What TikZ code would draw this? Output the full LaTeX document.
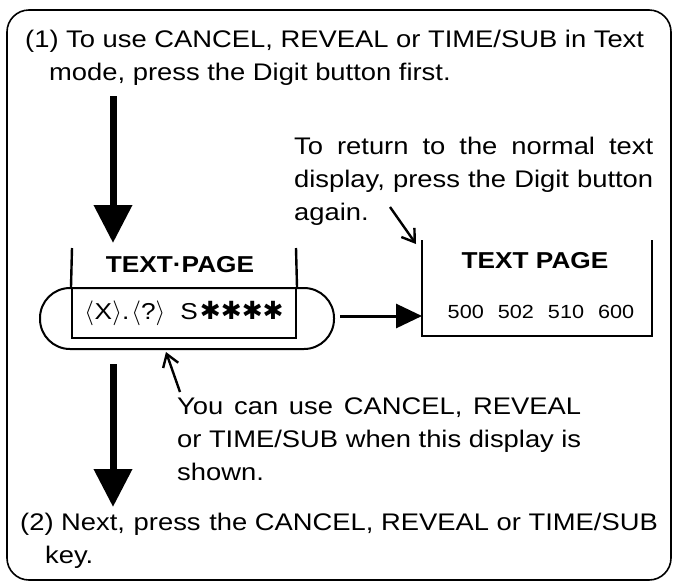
\documentclass[tikz,border=0pt]{standalone}
\usepackage{fontspec}
\setmainfont{Liberation Sans}[FakeStretch=1.14]
\newfontfamily\symfont{DejaVu Sans}
\usetikzlibrary{arrows.meta}
\begin{document}
\begin{tikzpicture}[x=1pt,y=-1pt,
  txt/.style={inner sep=0pt, font=\fontsize{24}{33}\selectfont},
  note/.style={inner sep=0pt, font=\fontsize{24}{33}\selectfont, align=justify},
  frame/.style={line width=1.6pt, rounded corners=22pt},
  bar/.style={line width=2.4pt},
  bigarrow/.style={line width=7pt, -{Triangle[length=38pt,width=37pt]}},
  midarrow/.style={line width=3pt, -{Triangle[length=26pt,width=24pt]}},
  thinarrow/.style={line width=2.4pt, -{Straight Barb[length=12pt,width=16pt]}},
  title/.style={inner sep=0pt, font=\fontsize{23}{28}\selectfont\bfseries},
]
\useasboundingbox (0,0) rectangle (676,587);
\draw[frame] (7,10) rectangle (671,580);

\node[txt, anchor=base west] (l1) at (25,47) {(1) To use CANCEL, REVEAL or TIME/SUB in Text};
\node[txt, anchor=base west] (l2) at (49,80) {mode, press the Digit button first.};

% first big arrow
\coordinate (a1s) at (113,96);
\coordinate (a1e) at (113,243);
\draw[bigarrow] (a1s) -- (a1e);

% left display
\node[draw, line width=2pt, rounded corners=30pt, minimum width=294pt, minimum height=61pt, inner sep=0pt] (cap) at (187,318.5) {};
\node[draw, line width=2pt, minimum width=224pt, minimum height=50pt, inner sep=0pt, font=\fontsize{23}{26}\selectfont] (disp) at (184,313)
  {\raisebox{0.5pt}{$\langle$}\kern0.5pt X\kern0.5pt\raisebox{0.5pt}{$\rangle$}.\kern2pt\raisebox{0.5pt}{$\langle$}?\raisebox{0.5pt}{$\rangle$}\hspace{15pt}S\kern2pt{\symfont\fontsize{25}{26}\selectfont ✱✱✱✱}};
\coordinate (lb1) at (72,248);
\coordinate (lb2) at (296,248);
\draw[bar] (lb1) -- (disp.north west);
\draw[bar] (lb2) -- (disp.north east);
\node[title, anchor=base] (tp1) at (180,272) {TEXT·PAGE};

% right display
\coordinate (rb1) at (422,240);
\coordinate (rb2) at (422,336);
\coordinate (rb3) at (652,336);
\coordinate (rb4) at (652,240);
\draw[bar] (rb1) -- (rb2) -- (rb3) -- (rb4);
\node[title, anchor=base] (tp2) at (535,268) {TEXT PAGE};
\node[inner sep=0pt, anchor=base, font=\fontsize{19}{22}\selectfont] (nums) at (541,318) {500\hspace{14pt}502\hspace{14pt}510\hspace{14pt}600};

% arrow between displays
\coordinate (ra) at (340,316);
\coordinate (rae) at (422,316);
\draw[midarrow] (ra) -- (rae);

% right note
\node[note, text width=359pt, anchor=base west] (n1) at (294,154)
  {To return to the normal text\linebreak display, press the Digit button\linebreak again.};
\coordinate (s1) at (390,207);
\coordinate (s1e) at (416,244);
\draw[thinarrow] (s1) -- (s1e);

% bottom note
\node[note, text width=404pt, anchor=base west] (n2) at (177,414)
  {You can use CANCEL, REVEAL\linebreak or TIME/SUB when this display is\linebreak shown.};
\coordinate (s2) at (180,392);
\coordinate (s2e) at (166,352);
\draw[thinarrow] (s2) -- (s2e);

% second big arrow
\coordinate (a2s) at (113,364);
\coordinate (a2e) at (113,507);
\draw[bigarrow] (a2s) -- (a2e);

\node[txt, anchor=base west] (l3) at (20,530) {(2) Next,\hspace{0.36em}press\hspace{0.36em}the CANCEL, REVEAL or TIME/SUB};
\node[txt, anchor=base west] (l4) at (45,563) {key.};
\end{tikzpicture}
\end{document}
